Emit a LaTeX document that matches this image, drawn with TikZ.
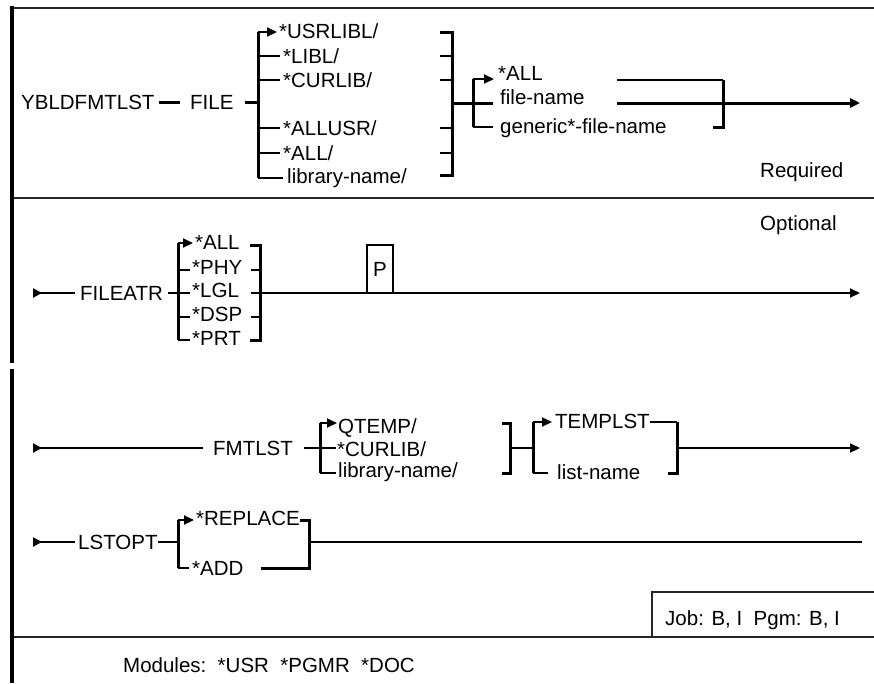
\documentclass[tikz,border=0pt]{standalone}
\usepackage{fontspec}
\setmainfont{Liberation Sans}
\usetikzlibrary{arrows.meta}

\begin{document}
\begin{tikzpicture}[
		x=1pt, y=-1pt,
		every node/.style={anchor=west, inner sep=0pt, text height=14.5pt, text depth=0pt, font=\fontsize{20.5}{24}\selectfont},
		border/.style={line width=2pt, black!85},
		leftedge/.style={line width=3.5pt},
		rail/.style={line width=2pt},
		main rail/.style={line width=3pt},
		bracket/.style={line width=3pt},
		tick/.style={line width=2pt},
		railend/.style={-{Triangle[length=10pt,width=9pt]}},
		railstart/.style={{Triangle[reversed,length=9pt,width=9pt]}-},
		line cap=butt,
		line join=miter
		]
		\useasboundingbox (0,0) rectangle (874,683);
		
		% ---- рамка ----
		\draw[border] (12,8) -- (874,8);
		\draw[border] (12,198) -- (874,198);
		\draw[border] (12,637) -- (874,637);
		\draw[border] (652,637) -- (652,592) -- (874,592);
		\draw[leftedge] (12,6) -- (12,363);
		\draw[leftedge] (12,369) -- (12,683);
		
		% ---- обязательная часть ----
		\node (ybl) at (21,102) {YBLDFMTLST};
		\node (file) at (190,102) {FILE};
		\node (usrlibl) at (279,31) {*USRLIBL/};
		\node (libl) at (283,56) {*LIBL/};
		\node (curlib) at (283,80) {*CURLIB/};
		\node (allusr) at (283,128) {*ALLUSR/};
		\node (alllib) at (283,153) {*ALL/};
		\node (libname) at (287,176) {library-name/};
		\node (allf) at (498,73) {*ALL};
		\node (filename) at (500,97) {file-name};
		\node (generic) at (500,126) {generic*-file-name};
		\node (required) at (760,170) {Required};
		
		\coordinate (b1t) at (258,32);
		\coordinate (b1b) at (258,178);
		\coordinate (b2t) at (452,32);
		\coordinate (b2b) at (452,175);
		\coordinate (b3t) at (473,79);
		\coordinate (b3b) at (473,127);
		\coordinate (b4t) at (723,80);
		\coordinate (b4b) at (723,127);
		\coordinate (r1a) at (617,80);
		\coordinate (r1b) at (617,103);
		\coordinate (end1) at (860,103);
		
		\draw[main rail, shorten <=4pt, shorten >=10pt] (ybl.east) -- (file.west);
		\draw[main rail, shorten <=11pt] (file.east) -- (b1t |- file.east);
		\draw[bracket] (b1t) -- (b1b);
		\draw[rail, railend, shorten >=2pt] (b1t) -- (b1t -| usrlibl.west);
		\draw[tick, shorten >=3pt] (b1t |- libl) -- (libl.west);
		\draw[tick, shorten >=3pt] (b1t |- curlib) -- (curlib.west);
		\draw[tick, shorten >=3pt] (b1t |- allusr) -- (allusr.west);
		\draw[tick, shorten >=3pt] (b1t |- alllib) -- (alllib.west);
		\draw[tick, shorten >=4pt] (b1b) -- (b1b -| libname.west);
		
		\draw[bracket] ([xshift=-12pt]b2t) -- (b2t) -- (b2b) -- ++(-12,0);
		\draw[tick] (b2t |- libl) -- ++(-12,0);
		\draw[tick] (b2t |- curlib) -- ++(-12,0);
		\draw[tick] (b2t |- allusr) -- ++(-12,0);
		\draw[tick] (b2t |- alllib) -- ++(-12,0);
		
		\draw[main rail] (b2t |- r1b) -- (b3t |- r1b);
		\draw[bracket] (b3t) -- (b3b);
		\draw[rail, railend, shorten >=4pt] (b3t) -- (b3t -| allf.west);
		\draw[main rail, shorten >=7pt] (b3t |- r1b) -- (filename.west |- r1b);
		\draw[tick, shorten >=7pt] (b3b) -- (b3b -| generic.west);
		
		\draw[rail] (r1a) -- (b4t);
		\draw[bracket] (b4t) -- (b4b) -- ++(-10,0);
		\draw[main rail, railend] (r1b) -- (end1);
		
		% ---- необязательная часть ----
		\node (optional) at (760,223) {Optional};
		
		\coordinate (s2) at (33,293);
		\node (fileatr) at (80,293) {FILEATR};
		\node (aall) at (195,242) {*ALL};
		\node (phy) at (192,267) {*PHY};
		\node (lgl) at (192,290) {*LGL};
		\node (dsp) at (192,314) {*DSP};
		\node (prt) at (192,338) {*PRT};
		\node[draw, line width=2pt, anchor=center, minimum width=26pt, minimum height=48pt] (pbox) at (380,269) {P};
		
		\coordinate (b5t) at (178,243);
		\coordinate (b5b) at (178,340);
		\coordinate (b6t) at (260,245);
		\coordinate (b6b) at (260,340);
		\coordinate (end2) at (860,293);
		
		\draw[rail, railstart, shorten >=5pt] (s2) -- (fileatr.west);
		\draw[rail, shorten <=5pt] (fileatr.east) -- (b5t |- fileatr);
		\draw[bracket] (b5t) -- (b5b);
		\draw[rail, railend, shorten >=2pt] (b5t) -- (b5t -| aall.west);
		\draw[tick, shorten >=2pt] (b5t |- 0,270) -- (phy.west |- 0,270);
		\draw[tick, shorten >=2pt] (b5t |- s2) -- (lgl.west |- s2);
		\draw[tick, shorten >=2pt] (b5t |- 0,317) -- (dsp.west |- 0,317);
		\draw[tick, shorten >=2pt] (b5b) -- (b5b -| prt.west);
		
		\draw[bracket] ([xshift=-10pt]b6t) -- (b6t) -- (b6b) -- ++(-10,0);
		\draw[tick] (b6t |- 0,270) -- ++(-9,0);
		\draw[tick] (b6t |- 0,317) -- ++(-9,0);
		\draw[tick] (b6t |- s2) -- ++(-9,0);
		\draw[rail, railend] (b6t |- s2) -- (end2);
		
		% ---- FMTLST ----
		\coordinate (s3) at (33,448);
		\node (fmtlst) at (213,448) {FMTLST};
		\node (qtemp) at (338,426) {QTEMP/};
		\node (curlibb) at (337,449) {*CURLIB/};
		\node (libnameb) at (338,470) {library-name/};
		\node (templst) at (555,421) {TEMPLST};
		\node (listname) at (557,472) {list-name};
		
		\coordinate (b7t) at (320,423);
		\coordinate (b7b) at (320,473);
		\coordinate (b8t) at (510,423);
		\coordinate (b8b) at (510,473);
		\coordinate (b9t) at (533,422);
		\coordinate (b9b) at (533,473);
		\coordinate (b10t) at (677,422);
		\coordinate (b10b) at (677,473);
		\coordinate (end3) at (860,448);
		
		\draw[rail, railstart, shorten >=10pt] (s3) -- (fmtlst.west);
		\draw[rail, shorten <=11pt] (fmtlst.east) -- (b7t |- s3);
		\draw[bracket] (b7t) -- (b7b);
		\draw[rail, railend, shorten >=1pt] (b7t) -- (b7t -| qtemp.west);
		\draw[tick, shorten >=1pt] (b7t |- s3) -- (curlibb.west |- s3);
		\draw[tick, shorten >=2pt] (b7b) -- (b7b -| libnameb.west);
		
		\draw[bracket] ([xshift=-8pt]b8t) -- (b8t) -- (b8b) -- ++(-8,0);
		\draw[rail] (b8t |- s3) -- (b9t |- s3);
		\draw[bracket] (b9t) -- (b9b);
		\draw[rail, railend, shorten >=3pt] (b9t) -- (b9t -| templst.west);
		\draw[tick, shorten >=9pt] (b9b) -- (b9b -| listname.west);
		\draw[rail] (b10t -| templst.east) -- (b10t);
		\draw[bracket] (b10t) -- (b10b) -- ++(-9,0);
		\draw[rail, railend] (b10t |- s3) -- (end3);
		
		% ---- LSTOPT ----
		\coordinate (s4) at (33,542);
		\node (lstopt) at (78,542) {LSTOPT};
		\node (replace) at (196,518) {*REPLACE};
		\node (add) at (192,568) {*ADD};
		
		\coordinate (b11t) at (178,520);
		\coordinate (b11b) at (178,568);
		\coordinate (b12t) at (309,520);
		\coordinate (b12b) at (309,568);
		\coordinate (end4) at (862,542);
		
		\draw[rail, railstart, shorten >=3pt] (s4) -- (lstopt.west);
		\draw[rail] (lstopt.east) -- (b11t |- s4);
		\draw[bracket] (b11t) -- (b11b);
		\draw[rail, railend, shorten >=2pt] (b11t) -- (b11t -| replace.west);
		\draw[tick, shorten >=3pt] (b11b) -- (b11b -| add.west);
		\draw[bracket] (b12t -| replace.east) -- (b12t) -- (b12b) -- ([xshift=17pt]b12b -| add.east);
		\draw[rail] (b12t |- s4) -- (end4);
		
		% ---- подписи внизу ----
		\node (job) at (665,618) {Job: B, I\ \ Pgm: B, I};
		\node (modules) at (123,665) {Modules:\ \ *USR\ \ *PGMR\ \ *DOC};
	\end{tikzpicture}
\end{document}
